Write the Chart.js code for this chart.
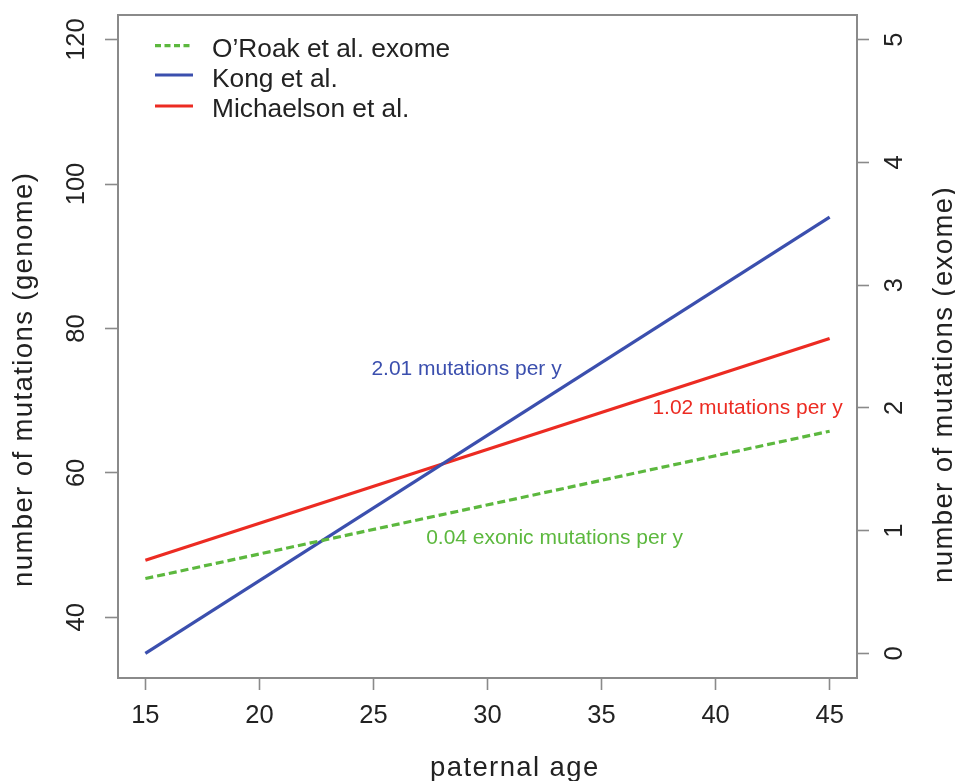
<!DOCTYPE html>
<html><head><meta charset="utf-8">
<script src="https://cdn.jsdelivr.net/npm/chart.js@4.4.1/dist/chart.umd.min.js"></script>
<style>html,body{margin:0;padding:0;background:#fff}canvas{display:block}</style>
</head><body>
<canvas id="c" width="955" height="781"></canvas>
<script>
// ---- data ----
const ages = [15, 45];
const oroakExome = [0.61, 1.81];   // right axis (exome)
const kong = [35.0, 95.4];         // left axis (genome)
const michaelson = [47.9, 78.6];   // left axis (genome)
const seriesLabels = ['O\u2019Roak et al. exome', 'Kong et al.', 'Michaelson et al.'];
const xTicks = [15, 20, 25, 30, 35, 40, 45];
const genomeTicks = [40, 60, 80, 100, 120];
const exomeTicks = [0, 1, 2, 3, 4, 5];
const slopeNotes = ['0.04 exonic mutations per y', '2.01 mutations per y', '1.02 mutations per y'];
const xTitle = 'paternal age';
const yTitle = 'number of mutations (genome)';
const y2Title = 'number of mutations (exome)';

// ---- styling ----
const COLORS = ['#5cb83e', '#3b4fae', '#ec2b22'];
const FONT = '"Liberation Sans", Arial, Helvetica, sans-serif';
const AXIS_GRAY = '#8a8a8a';
const TEXT = '#222';
const notePos = [{x: 32.94, y: 51.0}, {x: 29.08, y: 74.4}, {x: 41.4, y: 69.0}];

const toXY = (ys) => ages.map((a, i) => ({x: a, y: ys[i]}));

const zeroPad = (s) => { s.paddingTop = 0; s.paddingBottom = 0; s.paddingLeft = 0; s.paddingRight = 0; };

const decor = {
  id: 'decor',
  beforeDraw(chart) {
    const ctx = chart.ctx;
    ctx.save();
    ctx.fillStyle = '#fff';
    ctx.fillRect(0, 0, chart.width, chart.height);
    ctx.restore();
  },
  afterDatasetsDraw(chart) {
    const ctx = chart.ctx;
    const a = chart.chartArea;
    const sx = chart.scales.x, sy = chart.scales.y;
    ctx.save();
    // box
    ctx.strokeStyle = AXIS_GRAY;
    ctx.lineWidth = 2;
    ctx.strokeRect(a.left, a.top, a.right - a.left, a.bottom - a.top);

    // legend
    const legY = [45.7, 75, 106];
    ctx.lineWidth = 3.2;
    for (let i = 0; i < 3; i++) {
      ctx.strokeStyle = COLORS[i];
      ctx.setLineDash(i === 0 ? [6, 3.5] : []);
      ctx.beginPath();
      ctx.moveTo(155, legY[i]);
      ctx.lineTo(193, legY[i]);
      ctx.stroke();
    }
    ctx.setLineDash([]);
    ctx.fillStyle = TEXT;
    ctx.font = '26.3px ' + FONT;
    ctx.textAlign = 'left';
    ctx.textBaseline = 'alphabetic';
    const legBase = [56.5, 86.5, 116.5];
    for (let i = 0; i < 3; i++) ctx.fillText(seriesLabels[i], 212, legBase[i]);

    // slope notes
    ctx.font = '21px ' + FONT;
    ctx.textAlign = 'center';
    ctx.textBaseline = 'middle';
    for (let i = 0; i < 3; i++) {
      ctx.fillStyle = COLORS[i];
      ctx.fillText(slopeNotes[i], sx.getPixelForValue(notePos[i].x), sy.getPixelForValue(notePos[i].y));
    }

    // axis titles
    ctx.fillStyle = TEXT;
    ctx.font = '27.5px ' + FONT;
    try { ctx.letterSpacing = '1.4px'; } catch (e) {}
    ctx.textAlign = 'left';
    ctx.textBaseline = 'alphabetic';
    ctx.fillText(xTitle, 430, 776);

    ctx.save();
    ctx.translate(32, 587);
    ctx.rotate(-Math.PI / 2);
    ctx.fillText(yTitle, 0, 0);
    ctx.restore();

    ctx.save();
    ctx.translate(952, 583);
    ctx.rotate(-Math.PI / 2);
    ctx.fillText(y2Title, 0, 0);
    ctx.restore();

    ctx.restore();
  }
};

new Chart(document.getElementById('c'), {
  type: 'line',
  data: {
    datasets: [
      { label: seriesLabels[0], data: toXY(oroakExome), yAxisID: 'y2', borderColor: COLORS[0], borderWidth: 3.2, borderDash: [8, 4], pointRadius: 0, fill: false },
      { label: seriesLabels[1], data: toXY(kong), yAxisID: 'y', borderColor: COLORS[1], borderWidth: 3.2, pointRadius: 0, fill: false },
      { label: seriesLabels[2], data: toXY(michaelson), yAxisID: 'y', borderColor: COLORS[2], borderWidth: 3.2, pointRadius: 0, fill: false }
    ]
  },
  options: {
    responsive: false,
    animation: false,
    devicePixelRatio: 1,
    layout: { padding: { top: 15, left: 0, right: 0, bottom: 0 } },
    plugins: { legend: { display: false }, tooltip: { enabled: false } },
    scales: {
      x: {
        type: 'linear', position: 'bottom', min: 13.8, max: 46.2,
        afterBuildTicks: (s) => { s.ticks = xTicks.map(v => ({value: v})); },
        afterFit: (s) => { s.height = 103; zeroPad(s); },
        border: { display: false },
        grid: { display: true, drawOnChartArea: false, drawTicks: true, tickLength: 12, tickColor: AXIS_GRAY, tickWidth: 1.6 },
        ticks: { autoSkip: false, maxRotation: 0, minRotation: 0, padding: 11, color: TEXT, font: { family: FONT, size: 25.5 } }
      },
      y: {
        type: 'linear', position: 'left', min: 31.6, max: 123.4,
        afterBuildTicks: (s) => { s.ticks = genomeTicks.map(v => ({value: v})); },
        afterFit: (s) => { s.width = 118; zeroPad(s); },
        border: { display: false },
        grid: { display: true, drawOnChartArea: false, drawTicks: true, tickLength: 13, tickColor: AXIS_GRAY, tickWidth: 1.6 },
        ticks: { autoSkip: false, minRotation: 90, maxRotation: 90, crossAlign: 'center', padding: 7, color: TEXT, font: { family: FONT, size: 25.5 } }
      },
      y2: {
        type: 'linear', position: 'right', min: -0.2, max: 5.2,
        afterBuildTicks: (s) => { s.ticks = exomeTicks.map(v => ({value: v})); },
        afterFit: (s) => { s.width = 98; zeroPad(s); },
        border: { display: false },
        grid: { display: true, drawOnChartArea: false, drawTicks: true, tickLength: 12, tickColor: AXIS_GRAY, tickWidth: 1.6 },
        ticks: { autoSkip: false, minRotation: 90, maxRotation: 90, crossAlign: 'center', padding: 19, color: TEXT, font: { family: FONT, size: 25.5 } }
      }
    }
  },
  plugins: [decor]
});
</script>
</body></html>
